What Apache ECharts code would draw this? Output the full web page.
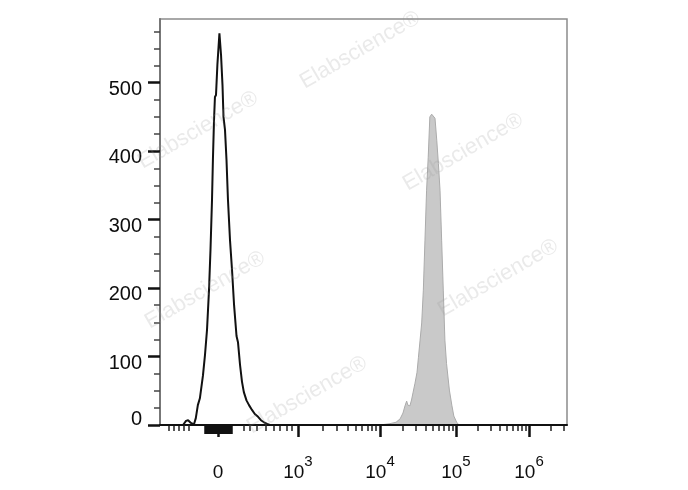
<!DOCTYPE html>
<html>
<head>
<meta charset="utf-8">
<script src="https://cdn.jsdelivr.net/npm/echarts@6/dist/echarts.min.js"></script>
<style>html,body{margin:0;padding:0;background:#fff;}#c{width:688px;height:490px;}</style>
</head>
<body>
<div id="c"></div>
<script>
// Unstained control histogram (black outline): channel (0-1000 display scale) and event count
const ctrlChannel = [0, 56.5, 64, 69, 76, 83.5, 88, 93, 98, 105.5, 110.5, 115.5, 120.4, 124, 127.8, 130, 132.7, 135, 137.6, 141, 146, 150, 153.6, 156, 159.7, 163.4, 167, 172, 177, 182, 188, 191.6, 196.6, 201.5, 206, 212.5, 218.7, 226, 233, 241, 248, 255.5, 263, 270, 1000];
const ctrlCount   = [0, 0, 6, 7, 3, 1, 10, 29, 39, 72, 102, 139, 197, 255, 329, 387, 445, 479, 482, 526, 572, 540, 496, 450, 431, 387, 329, 270, 226, 175, 130, 121, 88, 63, 48, 36, 29, 22, 16, 12, 7, 4, 1.5, 0, 0];

// Stained sample histogram (grey filled)
const stainChannel = [540.5, 565, 580, 590, 597, 602, 606, 609, 614, 618, 621.6, 626.5, 631.5, 635, 639, 643, 647, 651, 655, 659, 663, 667.5, 672, 675.7, 680, 684, 688, 692, 696, 700, 704, 711, 717, 722, 729, 734.6];
const stainCount   = [0, 2, 4, 9, 17.5, 28, 35, 29, 28, 36.5, 47, 61, 77, 99, 124, 149, 197, 270, 343, 391, 450, 454, 454, 448, 416, 382, 343, 270, 197, 124, 90, 51, 29, 13, 4, 0];

// X axis: channel positions of the labelled ticks (0, 10^3 ... 10^6)
const xMajorChannels = [142.5, 339, 540.5, 727, 906.6];
const xMajorLabels = ['0', '10^3', '10^4', '10^5', '10^6'];
// decade anchors (10^3..10^6) used to place the logarithmic minor ticks
const decadeChannels = [339, 540.5, 727, 906.6];
// linear-region minor ticks (around zero)
const xLinearMinor = [20.4, 32.7, 45, 57.3, 69.6, 204.7, 221, 237.6, 258.8, 278.4, 294.8, 311.3, 323.6];
const xZeroBlock = [111, 116, 121, 126, 131, 136, 141, 146, 151, 156, 161, 166, 171, 176];

// Y axis
const yMajor = [0, 100, 200, 300, 400, 500];
const yMinor = [25, 50, 75, 125, 150, 175, 225, 250, 275, 325, 350, 375, 425, 450, 475, 525, 550, 575];
const yMax = 593;
const xMax = 1000;

const xLogMinor = [];
for (let d = 0; d < decadeChannels.length; d++) {
  const a = decadeChannels[d];
  const w = d < decadeChannels.length - 1 ? decadeChannels[d + 1] - a : decadeChannels[d] - decadeChannels[d - 1];
  for (let k = 2; k <= 9; k++) {
    const c = a + w * Math.log10(k);
    if (c <= xMax) xLogMinor.push(+c.toFixed(1));
  }
}
const xMinor = xLinearMinor.concat(xLogMinor);

const ctrlData = ctrlChannel.map((c, i) => [c, ctrlCount[i]]);
const stainData = stainChannel.map((c, i) => [c, stainCount[i]]);

const FONT = 'Liberation Sans';
const chart = echarts.init(document.getElementById('c'), null, {renderer: 'canvas'});

const wmText = 'Elabscience\u00ae';
const wmPos = [[360, 50], [198, 130], [463, 152], [205, 290], [498, 278], [307, 395]];
const graphics = wmPos.map(p => ({
  type: 'text', x: p[0], y: p[1], rotation: Math.PI / 6, z: 100,
  style: {text: wmText, font: '22px "' + FONT + '"', fill: 'rgba(150,150,150,0.2)', align: 'center', verticalAlign: 'middle'}
}));

chart.setOption({
  animation: false,
  backgroundColor: '#fff',
  graphic: graphics,
  grid: {left: 160, right: 121, top: 19, bottom: 65, show: true, borderColor: '#8c8c8c', borderWidth: 1.5, backgroundColor: 'transparent'},
  xAxis: [
    {
      type: 'value', min: 0, max: xMax, position: 'bottom',
      axisLine: {show: true, onZero: false, lineStyle: {color: '#111', width: 2}},
      axisTick: {show: true, customValues: xMajorChannels, length: 12, lineStyle: {color: '#111', width: 2.5}},
      axisLabel: {
        show: true, customValues: xMajorChannels, margin: 29,
        formatter: v => {
          let i = 0, best = 1e9;
          xMajorChannels.forEach((c, j) => { if (Math.abs(c - v) < best) { best = Math.abs(c - v); i = j; } });
          const t = xMajorLabels[i].split('^');
          return t.length > 1 ? '{b|' + t[0] + '}{s|' + t[1] + '}' : '{b|' + t[0] + '}';
        },
        rich: {
          b: {fontSize: 19, fontWeight: 500, fontFamily: FONT, color: '#0d0d0d', lineHeight: 28, verticalAlign: 'bottom'},
          s: {fontSize: 15, fontWeight: 500, fontFamily: FONT, color: '#0d0d0d', lineHeight: 15, verticalAlign: 'top'}
        }
      },
      splitLine: {show: false}
    },
    {
      type: 'value', min: 0, max: xMax, position: 'bottom', offset: 0,
      axisLine: {show: false, onZero: false},
      axisTick: {show: true, customValues: xMinor, length: 6, lineStyle: {color: '#222', width: 1.5}},
      axisLabel: {show: false}, splitLine: {show: false}
    },
    {
      type: 'value', min: 0, max: xMax, position: 'bottom', offset: 0,
      axisLine: {show: false, onZero: false},
      axisTick: {show: true, customValues: xZeroBlock, length: 9, lineStyle: {color: '#111', width: 2.5}},
      axisLabel: {show: false}, splitLine: {show: false}
    }
  ],
  yAxis: [
    {
      type: 'value', min: 0, max: yMax, position: 'left',
      axisLine: {show: true, onZero: false, lineStyle: {color: '#777', width: 2}},
      axisTick: {show: true, customValues: yMajor, length: 12, lineStyle: {color: '#111', width: 2.5}},
      axisLabel: {
        show: true, customValues: yMajor, margin: 18,
        formatter: v => v === 0 ? '{z|0}' : '{n|' + v + '}',
        rich: {
          n: {fontSize: 20, fontWeight: 500, fontFamily: FONT, color: '#0d0d0d', padding: [13, 0, 0, 0]},
          z: {fontSize: 20, fontWeight: 500, fontFamily: FONT, color: '#0d0d0d', padding: [0, 0, 11, 0]}
        }
      },
      splitLine: {show: false}
    },
    {
      type: 'value', min: 0, max: yMax, position: 'left', offset: 0,
      axisLine: {show: false, onZero: false},
      axisTick: {show: true, customValues: yMinor, length: 6, lineStyle: {color: '#444', width: 1.5}},
      axisLabel: {show: false}, splitLine: {show: false}
    }
  ],
  series: [
    {
      type: 'line', name: 'stained', xAxisIndex: 0, yAxisIndex: 0, data: stainData,
      showSymbol: false, smooth: false, z: 2,
      lineStyle: {color: '#ababab', width: 1},
      areaStyle: {color: '#c9c9c9', opacity: 1}
    },
    {
      type: 'line', name: 'control', xAxisIndex: 0, yAxisIndex: 0, data: ctrlData,
      showSymbol: false, smooth: false, z: 3,
      lineStyle: {color: '#111', width: 2}
    }
  ]
});
</script>
</body>
</html>
